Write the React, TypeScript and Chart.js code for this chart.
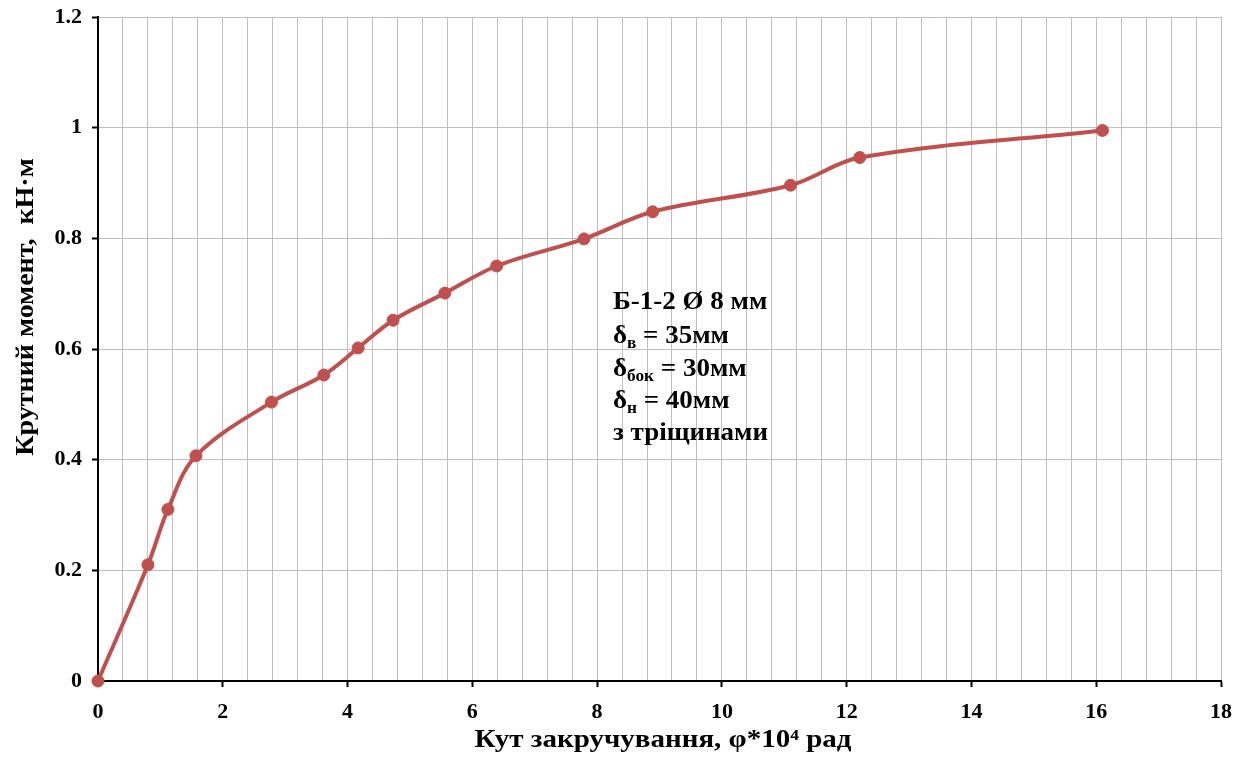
import React, { useEffect, useRef } from "react";
import { Chart, registerables } from "chart.js";

Chart.register(...registerables);

// Data
const angleValues: number[] = [0, 0.8, 1.12, 1.57, 2.78, 3.62, 4.17, 4.73, 5.56, 6.39, 7.79, 8.89, 11.1, 12.21, 16.1];
const torqueValues: number[] = [0, 0.21, 0.31, 0.407, 0.504, 0.553, 0.602, 0.652, 0.701, 0.75, 0.799, 0.848, 0.896, 0.946, 0.995];

const xTitle = "Кут закручування, φ*10⁴ рад";
const yTitle = "Крутний момент,  кН·м";
const noteTitle = "Б-1-2 Ø 8 мм";
const noteRows: { main: string; sub: string; rest: string }[] = [
  { main: "δ", sub: "в", rest: " = 35мм" },
  { main: "δ", sub: "бок", rest: " = 30мм" },
  { main: "δ", sub: "н", rest: " = 40мм" },
];
const noteLast = "з тріщинами";

const FONT = "'Liberation Serif', 'Times New Roman', serif";
const RED = "#C0504D";

const isMajor = (v: number) => Math.abs(v / 2 - Math.round(v / 2)) < 1e-6;

const textPlugin = {
  id: "customText",
  afterDraw(chart: any) {
    const ctx = chart.ctx as CanvasRenderingContext2D;
    ctx.save();
    ctx.fillStyle = "#000";
    ctx.textBaseline = "alphabetic";
    // X title
    ctx.save();
    ctx.font = `bold 25px ${FONT}`;
    ctx.textAlign = "center";
    ctx.translate(663, 747);
    ctx.scale(1.16, 1);
    ctx.fillText(xTitle, 0, 0);
    ctx.restore();
    // Y title
    ctx.save();
    ctx.font = `bold 25px ${FONT}`;
    ctx.textAlign = "center";
    ctx.translate(33, 307);
    ctx.rotate(-Math.PI / 2);
    ctx.scale(1.12, 1);
    ctx.fillText(yTitle, 0, 0);
    ctx.restore();
    // Annotation
    ctx.textAlign = "left";
    const x0 = 613;
    const big = `bold 25px ${FONT}`;
    const small = `bold 16px ${FONT}`;
    const sx = 1.08;
    const drawAt = (txt: string, x: number, y: number, font: string) => {
      ctx.save();
      ctx.font = font;
      ctx.translate(x, y);
      ctx.scale(sx, 1);
      ctx.fillText(txt, 0, 0);
      const w = ctx.measureText(txt).width * sx;
      ctx.restore();
      return w;
    };
    drawAt(noteTitle, x0, 309, big);
    const baselines = [343, 376, 408];
    noteRows.forEach((r, i) => {
      const y = baselines[i];
      let x = x0;
      x += drawAt(r.main, x, y, big);
      x += drawAt(r.sub, x, y + 5, small);
      drawAt(r.rest, x, y, big);
    });
    drawAt(noteLast, x0, 440, big);
    ctx.restore();
  },
};

export default function App() {
  const ref = useRef<HTMLCanvasElement | null>(null);
  useEffect(() => {
    if (!ref.current) return;
    const points = angleValues.map((x, i) => ({ x, y: torqueValues[i] }));
    const chart = new Chart(ref.current, {
      type: "scatter",
      data: {
        datasets: [
          {
            data: points,
            showLine: true,
            borderColor: RED,
            backgroundColor: RED,
            borderWidth: 4,
            pointRadius: 6,
            pointBorderWidth: 1,
            pointBorderColor: RED,
            pointBackgroundColor: RED,
            tension: 0.35,
            clip: false as any,
          },
        ],
      },
      options: {
        responsive: false,
        animation: false,
        devicePixelRatio: 1,
        layout: { padding: { top: 17, right: 26, left: 0, bottom: 0 } },
        plugins: { legend: { display: false }, tooltip: { enabled: false } },
        scales: {
          x: {
            type: "linear",
            min: 0,
            max: 18,
            afterFit: (s: any) => {
              s.height = 78;
              s.paddingLeft = 0;
              s.paddingRight = 0;
            },
            ticks: {
              stepSize: 0.4,
              autoSkip: false,
              maxRotation: 0,
              padding: 12,
              color: "#000",
              font: { family: FONT, size: 22, weight: "bold" },
              callback: (v: any) => (isMajor(Number(v)) ? String(Math.round(Number(v))) : ""),
            },
            grid: {
              color: "#BEBEBE",
              lineWidth: 1,
              tickLength: 6,
              tickWidth: 2,
              tickColor: (c: any) => (c.tick && isMajor(c.tick.value) ? "#000" : "rgba(0,0,0,0)"),
            },
            border: { color: "#000", width: 2 },
          },
          y: {
            type: "linear",
            min: 0,
            max: 1.2,
            afterFit: (s: any) => {
              s.width = 98;
              s.paddingTop = 0;
              s.paddingBottom = 0;
            },
            ticks: {
              stepSize: 0.2,
              padding: 10,
              color: "#000",
              font: { family: FONT, size: 22, weight: "bold" },
              callback: (v: any) => String(parseFloat(Number(v).toFixed(1))),
            },
            grid: {
              color: "#BEBEBE",
              lineWidth: 1,
              tickLength: 6,
              tickWidth: 2,
              tickColor: "#000",
            },
            border: { color: "#000", width: 2 },
          },
        },
      },
      plugins: [textPlugin],
    });
    return () => chart.destroy();
  }, []);
  return (
    <div style={{ position: "absolute", left: 0, top: 0, width: 1247, height: 759, background: "#fff" }}>
      <canvas ref={ref} width={1247} height={759} />
    </div>
  );
}
